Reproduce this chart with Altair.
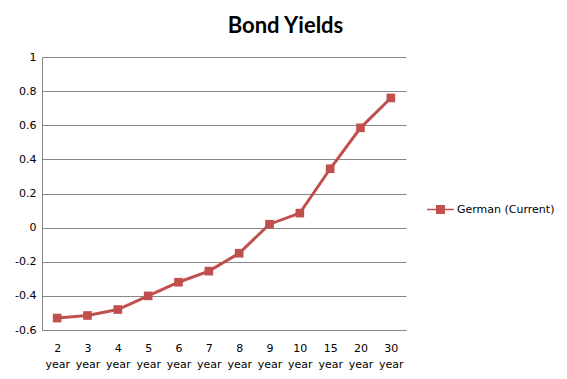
import altair as alt
import pandas as pd

maturities = ["2 year", "3 year", "4 year", "5 year", "6 year", "7 year",
              "8 year", "9 year", "10 year", "15 year", "20 year", "30 year"]
yields = [-0.53, -0.515, -0.48, -0.40, -0.32, -0.255, -0.15, 0.02, 0.085, 0.345, 0.585, 0.76]
series = ["German (Current)"] * len(maturities)
title_text = "Bond Yields"

df = pd.DataFrame({"maturity": maturities, "yield": yields, "series": series})

RED = "#C0504D"
GRID = "#868686"
legend_path = "M-1,-0.06H1V0.06H-1Z M-0.33,-0.33H0.33V0.33H-0.33Z"

line = alt.Chart(df).mark_line(
    strokeWidth=3,
    point=alt.OverlayMarkDef(shape="square", size=75, filled=True, opacity=1),
).encode(
    x=alt.X("maturity:N", sort=maturities, title=None,
            axis=alt.Axis(labelAngle=0, ticks=False, domain=True, domainColor=GRID,
                          labelExpr="split(datum.label, ' ')",
                          labelFont="DejaVu Sans", labelFontSize=11, labelColor="#000000",
                          labelPadding=12, labelLineHeight=16, labelBaseline="top")),
    y=alt.Y("yield:Q", title=None,
            scale=alt.Scale(domain=[-0.6, 1], nice=False, zero=False),
            axis=alt.Axis(values=[-0.6, -0.4, -0.2, 0, 0.2, 0.4, 0.6, 0.8, 1],
                          labelExpr="replace(format(datum.value, '.1~f'), '\u2212', '-')",
                          ticks=False, domain=True, domainColor=GRID, gridColor=GRID,
                          labelFont="DejaVu Sans", labelFontSize=11, labelColor="#000000",
                          labelPadding=6)),
    color=alt.Color("series:N", scale=alt.Scale(range=[RED]),
                    legend=alt.Legend(title=None, orient="none", legendX=385, legendY=139,
                                      symbolType=legend_path, symbolSize=729,
                                      symbolFillColor=RED, symbolStrokeColor=RED,
                                      symbolStrokeWidth=0, labelOffset=3, padding=0,
                                      labelFont="DejaVu Sans", labelFontSize=11,
                                      labelColor="#000000")),
)

title = alt.Chart(alt.Data(values=[{"t": title_text}])).mark_text(
    font="Lato", fontSize=22, fontWeight="bold", color="#000000",
    align="center", baseline="alphabetic",
).encode(
    text="t:N", x=alt.value(243.5), y=alt.value(-24),
)

chart = alt.layer(line, title).properties(
    width=364, height=273,
    autosize=alt.AutoSizeParams(type="none"),
    padding={"left": 34, "top": 49, "right": 153, "bottom": 41},
).configure_view(stroke=None).configure_axis(gridColor=GRID, gridWidth=1)

chart.save("out.html", embed_options={"renderer": "svg", "actions": False})
